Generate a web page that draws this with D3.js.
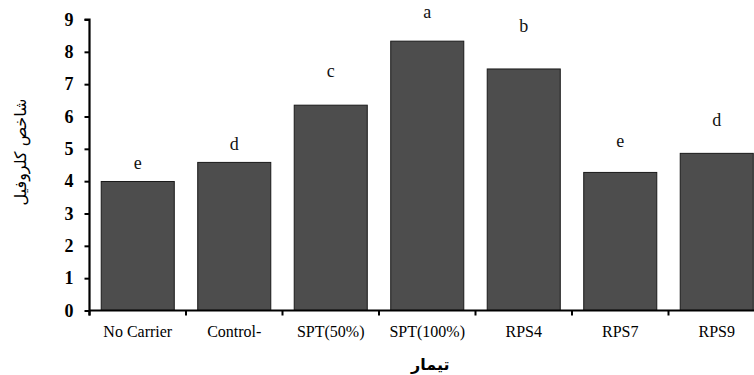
<!DOCTYPE html>
<html>
<head>
<meta charset="utf-8">
<script src="https://cdn.jsdelivr.net/npm/d3@7/dist/d3.min.js"></script>
<style>
  html, body { margin: 0; padding: 0; background: #ffffff; }
  svg { display: block; }
  .serif { font-family: "Liberation Serif", "Times New Roman", Times, "DejaVu Serif", serif; }
</style>
</head>
<body>
<script>
// ---- data ----
const categories = ["No Carrier", "Control-", "SPT(50%)", "SPT(100%)", "RPS4", "RPS7", "RPS9"];
const chlorophyll = [3.99, 4.58, 6.35, 8.33, 7.47, 4.27, 4.86];
const groupLetters = ["e", "d", "c", "a", "b", "e", "d"];
const letterLevels = [4.37, 4.96, 7.22, 9.04, 8.61, 5.06, 5.71];
const yTicks = [0, 1, 2, 3, 4, 5, 6, 7, 8, 9];
const yTitle = "شاخص کلروفیل";
const xTitle = "تیمار";

// ---- layout ----
const W = 754, H = 375;
const svg = d3.select("body").append("svg").attr("width", W).attr("height", H);

const y = d3.scaleLinear().domain([0, 9]).range([310.5, 19.5]);
const x = d3.scaleBand().domain(categories).range([89.5, 765])
  .paddingInner(0.243).paddingOuter(0.1215);
const gap = x.step() - x.bandwidth();

// bars
svg.append("g").selectAll("rect").data(categories).join("rect")
  .attr("x", d => x(d))
  .attr("y", (d, i) => y(chlorophyll[i]))
  .attr("width", x.bandwidth())
  .attr("height", (d, i) => y(0) - y(chlorophyll[i]))
  .attr("fill", "#4d4d4d")
  .attr("stroke", "#1a1a1a")
  .attr("stroke-width", 1);

// letters
svg.append("g").selectAll("text").data(categories).join("text")
  .attr("class", "serif")
  .attr("x", d => x(d) + x.bandwidth() / 2)
  .attr("y", (d, i) => y(letterLevels[i]))
  .attr("text-anchor", "middle")
  .style("font-size", "18px")
  .attr("fill", "#111")
  .text((d, i) => groupLetters[i]);

// y axis
const yAxis = d3.axisLeft(y).tickValues(yTicks).tickSize(5).tickPadding(11).tickFormat(d3.format("d"));
const gy = svg.append("g").attr("transform", "translate(89.5,0)").call(yAxis);
gy.attr("font-family", null).attr("font-size", null);
gy.select(".domain").attr("stroke", "#000").attr("stroke-width", 2.2).attr("d", `M-5,${y(9)}H0V${y(0)+5}`);
gy.selectAll(".tick line").attr("stroke", "#000").attr("stroke-width", 2);
gy.selectAll(".tick text")
  .attr("class", "serif")
  .style("font-weight", "bold")
  .style("font-size", "18px")
  .attr("fill", "#000");

// x axis
const xAxis = d3.axisBottom(x).tickSize(0).tickPadding(15);
const gx = svg.append("g").attr("transform", `translate(0,${y(0)})`).call(xAxis);
gx.attr("font-family", null).attr("font-size", null);
gx.select(".domain").attr("stroke", "#000").attr("stroke-width", 2.2).attr("d", `M89.5,0H765`);
gx.selectAll(".tick text")
  .attr("class", "serif")
  .style("font-size", "16px")
  .attr("fill", "#000");
// boundary ticks between categories
gx.append("g").selectAll("line").data(categories).join("line")
  .attr("x1", d => x(d) - gap / 2).attr("x2", d => x(d) - gap / 2)
  .attr("y1", 0).attr("y2", 5)
  .attr("stroke", "#000").attr("stroke-width", 2);

// axis titles
svg.append("text")
  .attr("transform", `translate(26,${(y(0) + y(9)) / 2 - 13}) rotate(-90)`)
  .attr("text-anchor", "middle")
  .attr("font-family", "'DejaVu Sans', sans-serif")
  .attr("font-size", 16)
  .attr("fill", "#000")
  .text(yTitle);

svg.append("text")
  .attr("x", (89.5 + 765) / 2 + 3)
  .attr("y", 370)
  .attr("text-anchor", "middle")
  .attr("font-family", "'DejaVu Sans', sans-serif")
  .attr("font-weight", "bold")
  .attr("font-size", 16)
  .attr("fill", "#000")
  .text(xTitle);
</script>
</body>
</html>
